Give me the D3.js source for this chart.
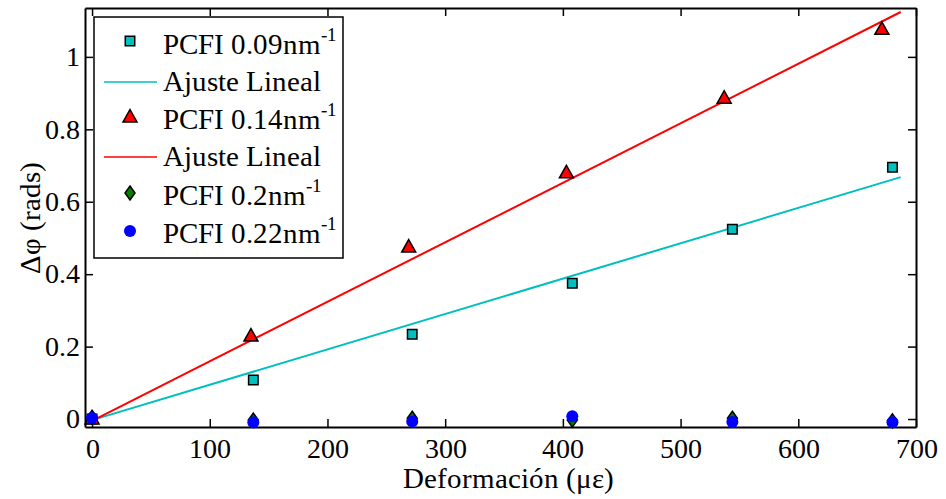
<!DOCTYPE html>
<html><head><meta charset="utf-8">
<script src="https://cdn.jsdelivr.net/npm/d3@7"></script>
<style>
@font-face { font-family: "ChartSerif"; src: local("Liberation Serif"), local("LiberationSerif"), local("Times New Roman"), local("Tinos"); }
body{margin:0;background:#fff}
svg{display:block}
svg text, svg tspan { font-family: "ChartSerif", "Liberation Serif", "Times New Roman", Tinos !important; }
</style>
</head><body><svg id="c" width="946" height="499"></svg>
<script>
const strain = [0, 137, 272, 408, 544, 680];
const pcfi009 = [0.000, 0.108, 0.234, 0.375, 0.524, 0.695];
const strain014 = [0, 135, 269, 403, 537, 671];
const pcfi014 = [0.000, 0.229, 0.475, 0.680, 0.886, 1.076];
const pcfi020 = [0.005, -0.003, 0.002, -0.003, 0.002, -0.005];
const pcfi022 = [0.003, -0.009, -0.007, 0.008, -0.008, -0.009];
const fitX = [0, 687];
const fit009 = [-0.003, 0.668];
const fit014 = [-0.005, 1.124];
const xTicks = [0, 100, 200, 300, 400, 500, 600, 700];
const yTicks = [0, 0.2, 0.4, 0.6, 0.8, 1];
const legendLabels = ["PCFI 0.09nm", "Ajuste Lineal", "PCFI 0.14nm", "Ajuste Lineal", "PCFI 0.2nm", "PCFI 0.22nm"];

const svg = d3.select("#c");
const L = 85, R = 916, T = 8, B = 427;
const x = d3.scaleLinear().domain([-6, 700]).range([L, R]);
const y = d3.scaleLinear().domain([-0.022, 1.135]).range([B, T]);

const cyan = "#00bfbf", red = "#ff0000", green = "#007f00", blue = "#0000ff";
const FS = 27.5;
const setFont = (sel, size) => sel.attr("font-family", "Liberation Serif").attr("font-size", size);

// axes
const gx = svg.append("g").attr("transform", `translate(0,${B})`)
  .call(d3.axisBottom(x).tickValues(xTicks).tickSizeInner(-8).tickSizeOuter(0).tickPadding(11).tickFormat(d3.format("d")));
const gxt = svg.append("g").attr("transform", `translate(0,${T})`)
  .call(d3.axisTop(x).tickValues(xTicks).tickSizeInner(-8).tickSizeOuter(0).tickFormat(""));
const gy = svg.append("g").attr("transform", `translate(${L},0)`)
  .call(d3.axisLeft(y).tickValues(yTicks).tickSizeInner(-8).tickSizeOuter(0).tickPadding(5).tickFormat(d => String(+d.toFixed(1))));
const gyr = svg.append("g").attr("transform", `translate(${R},0)`)
  .call(d3.axisRight(y).tickValues(yTicks).tickSizeInner(-8).tickSizeOuter(0).tickFormat(""));
[gx, gxt, gy, gyr].forEach(g => {
  g.attr("font-family", "Liberation Serif").attr("font-size", FS);
  g.selectAll("path.domain").attr("stroke", "#000").attr("stroke-width", 2);
  g.selectAll("line").attr("stroke", "#000").attr("stroke-width", 1.5);
  setFont(g.selectAll("text").attr("fill", "#000"), FS);
});

// axis titles
setFont(svg.append("text").attr("x", 508).attr("y", 488).attr("text-anchor", "middle"), 29).text("Deformación (με)");
setFont(svg.append("text").attr("transform", "translate(40,218) rotate(-90)").attr("text-anchor", "middle"), 29).text("Δφ (rads)");

const plot = svg.append("g");

// fit lines
const line = d3.line().x(d => x(d[0])).y(d => y(d[1]));
plot.append("path").attr("d", line(fitX.map((v, i) => [v, fit009[i]])))
  .attr("stroke", cyan).attr("stroke-width", 2).attr("fill", "none");
plot.append("path").attr("d", line(fitX.map((v, i) => [v, fit014[i]])))
  .attr("stroke", red).attr("stroke-width", 2).attr("fill", "none");

const sq = d3.symbol().type(d3.symbolSquare).size(90);
const tri = "M0,-7.5L7,5L-7,5Z";
const dia = "M0,-7L5,0L0,7L-5,0Z";

plot.selectAll(".sq").data(strain).join("path")
  .attr("d", sq).attr("transform", (d, i) => `translate(${x(d)},${y(pcfi009[i])})`)
  .attr("fill", cyan).attr("stroke", "#000").attr("stroke-width", 1.5);
plot.selectAll(".tri").data(strain014).join("path")
  .attr("d", tri).attr("transform", (d, i) => `translate(${x(d)},${y(pcfi014[i])})`)
  .attr("fill", red).attr("stroke", "#000").attr("stroke-width", 1.5);
plot.selectAll(".dia").data(strain).join("path")
  .attr("d", dia).attr("transform", (d, i) => `translate(${x(d)},${y(pcfi020[i])})`)
  .attr("fill", green).attr("stroke", "#000").attr("stroke-width", 1.5);
plot.selectAll(".cir").data(strain).join("circle")
  .attr("cx", d => x(d)).attr("cy", (d, i) => y(pcfi022[i])).attr("r", 6)
  .attr("fill", blue);

// legend
const lg = svg.append("g");
lg.append("rect").attr("x", 94).attr("y", 17).attr("width", 249).attr("height", 241)
  .attr("fill", "#fff").attr("stroke", "#000").attr("stroke-width", 1.5);
const rowY = [45, 82, 120, 157, 196, 234];
const kinds = ["sq", "line", "tri", "line", "dia", "cir"];
const colors = [cyan, cyan, red, red, green, blue];
const sup = [true, false, true, false, true, true];
rowY.forEach((ry, i) => {
  const k = kinds[i];
  if (k === "line") lg.append("line").attr("x1", 104).attr("x2", 157).attr("y1", ry).attr("y2", ry).attr("stroke", colors[i]).attr("stroke-width", 1.5);
  else if (k === "sq") lg.append("path").attr("d", sq).attr("transform", `translate(130,${ry - 4})`).attr("fill", colors[i]).attr("stroke", "#000").attr("stroke-width", 1.5);
  else if (k === "tri") lg.append("path").attr("d", tri).attr("transform", `translate(130,${ry - 3})`).attr("fill", colors[i]).attr("stroke", "#000").attr("stroke-width", 1.5);
  else if (k === "dia") lg.append("path").attr("d", dia).attr("transform", `translate(130,${ry - 3})`).attr("fill", colors[i]).attr("stroke", "#000").attr("stroke-width", 1.5);
  else lg.append("circle").attr("cx", 130).attr("cy", ry - 3).attr("r", 6).attr("fill", colors[i]);
  const t = setFont(lg.append("text").attr("x", 163).attr("y", ry + 9), 28.5).text(legendLabels[i]);
  if (sup[i]) t.append("tspan").attr("dy", -13).attr("font-size", 19).text("-1");
});
</script></body></html>
